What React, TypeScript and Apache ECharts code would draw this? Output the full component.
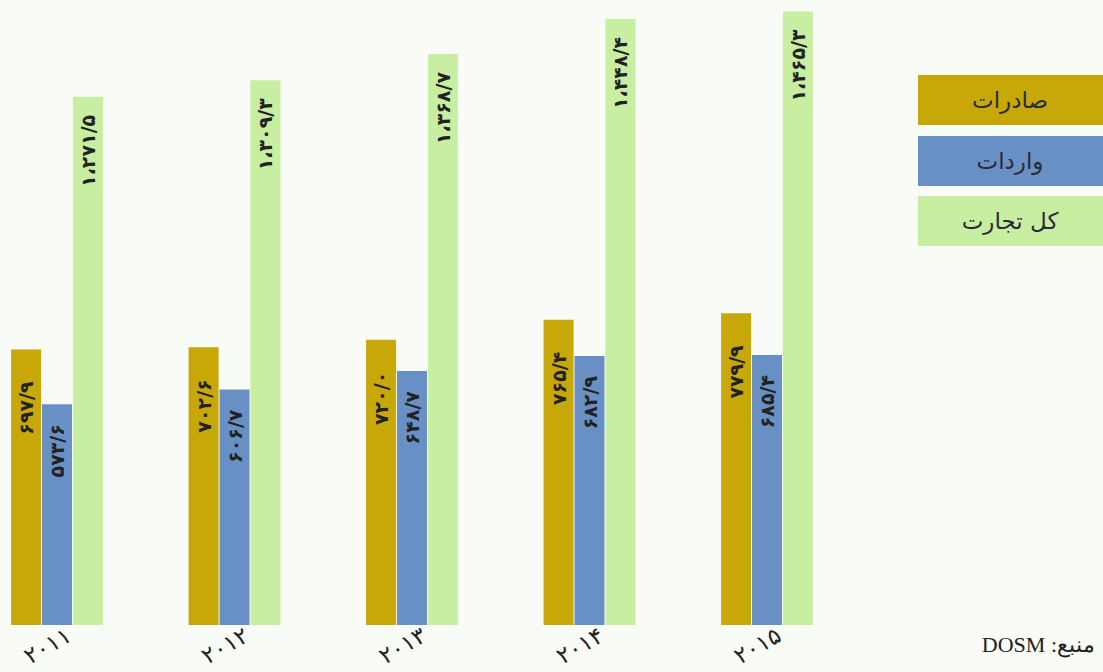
import React, { useEffect, useRef } from "react";
import * as echarts from "echarts";

const years = ["2011", "2012", "2013", "2014", "2015"];
const seriesNames = ["صادرات", "واردات", "کل تجارت"];
const exportsData = [697.9, 702.6, 720.0, 765.4, 779.9];
const importsData = [573.6, 606.7, 648.7, 682.9, 685.4];
const totalData = [1271.5, 1309.3, 1368.7, 1448.4, 1465.3];
const colors = ["#c8a808", "#6890c4", "#c8eea2"];
const sourceText = "منبع: DOSM";

const faDigits = "۰۱۲۳۴۵۶۷۸۹";
const toFa = (s: string) => s.replace(/[0-9]/g, (d) => faDigits[Number(d)]);
const fmtVal = (v: number) => {
  const [i, f] = v.toFixed(1).split(".");
  const int = i.replace(/\B(?=(\d{3})+(?!\d))/g, "،");
  return "\u202D" + toFa(int + "/" + f) + "\u202C";
};

const FONT = "DejaVu Sans";

export default function App() {
  const ref = useRef<HTMLDivElement>(null);
  useEffect(() => {
    document.body.style.margin = "0";
    const chart = echarts.init(ref.current!, undefined, { renderer: "svg" });
    const mkLabel = (distance: number) => ({
      show: true,
      position: "insideTop",
      rotate: 90,
      align: "right",
      verticalAlign: "middle",
      distance,
      color: "#222",
      fontSize: 19,
      fontWeight: "bold",
      fontFamily: FONT,
      formatter: (p: any) => fmtVal(p.value),
    });
    const datas = [exportsData, importsData, totalData];
    const dists = [32, 20, 18];
    const legendY = [75, 136, 196];
    chart.setOption({
      animation: false,
      backgroundColor: "#f9fbf6",
      grid: {
        left: 57,
        width: 710,
        top: 5,
        bottom: 47,
        containLabel: false,
        outerBoundsMode: "none",
      },
      xAxis: {
        type: "category",
        data: years,
        boundaryGap: false,
        axisLine: { show: false },
        axisTick: { show: false },
        axisLabel: {
          rotate: 30,
          align: "center",
          verticalAlign: "middle",
          margin: 15,
          padding: [0, 22, 0, 0],
          fontSize: 23,
          color: "#222",
          fontFamily: FONT,
          formatter: (v: string) => toFa(v),
        },
      },
      yAxis: {
        type: "value",
        min: 72,
        max: 1480,
        show: false,
        splitLine: { show: false },
      },
      series: datas.map((d, i) => ({
        type: "bar",
        name: seriesNames[i],
        data: d,
        barWidth: 30,
        barGap: "3%",
        itemStyle: { color: colors[i] },
        label: mkLabel(dists[i]),
      })),
      graphic: [
        ...seriesNames.map((n, i) => ({
          type: "group",
          children: [
            {
              type: "rect",
              shape: { x: 918, y: legendY[i], width: 185, height: 50 },
              style: { fill: colors[i] },
            },
            {
              type: "text",
              x: 1010,
              y: legendY[i] + 25,
              style: {
                text: n,
                fill: "#2a2a38",
                fontSize: 23,
                fontFamily: FONT,
                align: "center",
                verticalAlign: "middle",
              },
            },
          ],
        })),
        {
          type: "text",
          right: 8,
          top: 633,
          style: {
            text: "\u202B" + sourceText + "\u202C",
            fill: "#222",
            fontSize: 22,
            fontFamily: "Liberation Serif",
          },
        },
      ],
    });
    return () => chart.dispose();
  }, []);
  return (
    <div
      ref={ref}
      style={{ position: "absolute", left: 0, top: 0, width: 1103, height: 672 }}
    />
  );
}
